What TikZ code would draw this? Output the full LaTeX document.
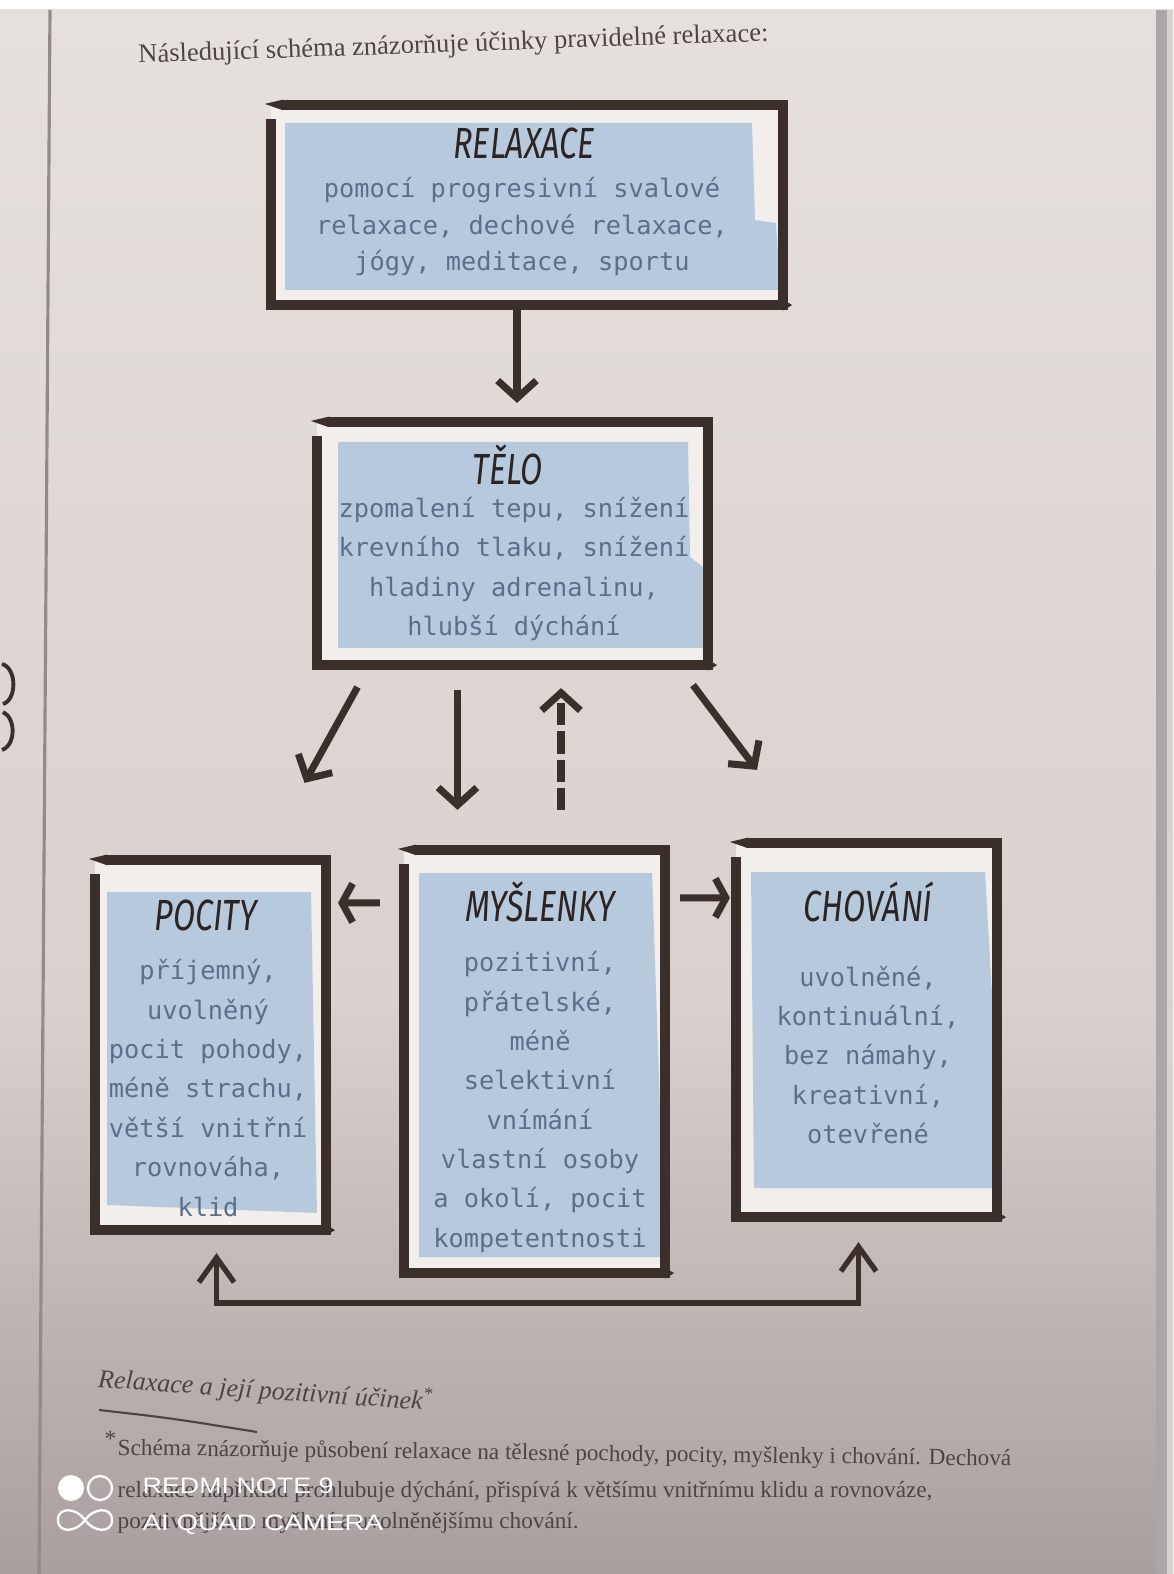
\documentclass[tikz,border=0pt]{standalone}
\usepackage{fontspec}
\setmainfont{Liberation Serif}
\newfontfamily\monofont{DejaVu Sans Mono}
\newfontfamily\handfont{Fira Sans}
\newfontfamily\markfont{Liberation Sans}
\usetikzlibrary{arrows.meta,calc,backgrounds}
\definecolor{brush}{HTML}{3A2F2B}
\definecolor{panelblue}{HTML}{B7CADD}
\definecolor{bodyink}{HTML}{5A6F8A}
\definecolor{titleink}{HTML}{2B2424}
\definecolor{printink}{HTML}{4D4545}
\definecolor{paperhi}{HTML}{E6E0DD}
\definecolor{papermid}{HTML}{D9D1CE}
\definecolor{paperlo}{HTML}{A99F9E}
\definecolor{inside}{HTML}{F1EEEC}
\definecolor{gutter}{HTML}{938B89}
\definecolor{edgegray}{HTML}{A9A7A8}
\tikzset{
  boxframe/.style={inner sep=0pt, outer sep=0pt},
  boxedge/.style={draw=brush, line width=3pt, line join=miter},
  boxtitle/.style={font=\handfont\itshape\fontsize{12.4}{14}\selectfont, text=titleink, inner sep=0pt},
  boxbody/.style={font=\monofont\fontsize{7.2}{11.2}\selectfont, text=bodyink, align=center, inner sep=0pt},
  brusharrow/.style={draw=brush, line width=2pt, -{Straight Barb[length=5pt,width=11pt]}},
  shorthead/.style={-{Straight Barb[length=3pt,width=11pt]}},
  brushline/.style={draw=brush, line width=1.5pt},
  pagetext/.style={font=\fontsize{7.55}{9}\selectfont, text=printink, inner sep=0pt},
  notetext/.style={font=\fontsize{6.6}{8}\selectfont, text=printink, inner sep=0pt, anchor=base west},
  marktext/.style={font=\markfont\fontsize{6.36}{8}\selectfont, text=white, inner sep=0pt},
}
\newcommand{\ttl}[1]{\scalebox{0.74}[1]{#1}}
% brush frame round a named node: open top-left corner, tapered start
\newcommand{\brushbox}[1]{%
  \draw[boxedge] ([shift={(12,0)}]#1.north west) -- (#1.north east) -- (#1.south east)
    -- (#1.south west) -- ([shift={(0,14)}]#1.north west);
  \fill[brush] ([shift={(12,-5.3)}]#1.north west) -- ([shift={(-6,-1)}]#1.north west)
    -- ([shift={(12,5.3)}]#1.north west) -- cycle;
  \fill[brush] ([shift={(0,-5.3)}]#1.south east) -- ([shift={(9,0)}]#1.south east)
    -- ([shift={(0,5.3)}]#1.south east) -- cycle;}

\begin{document}
\begin{tikzpicture}[x=0.01cm, y=-0.01cm]
  \useasboundingbox (0,0) rectangle (1173,1574);

  % frames of the five boxes
  \node[boxframe, minimum width=5.12cm, minimum height=2cm] (relF) at (527,205) {};
  \node[boxframe, minimum width=3.91cm, minimum height=2.43cm] (teloF) at (512.5,543.5) {};
  \node[boxframe, minimum width=2.31cm, minimum height=3.7cm] (pocF) at (210.5,1045) {};
  \node[boxframe, minimum width=2.61cm, minimum height=4.23cm] (mysF) at (534.5,1061.5) {};
  \node[boxframe, minimum width=2.61cm, minimum height=3.74cm] (chovF) at (866.5,1030) {};

  % page, paper inside the frames, blue panels
  \begin{scope}[on background layer]
    \fill[white] (0,0) rectangle (1173,10);
    \shade[top color=paperhi, bottom color=papermid] (0,10) rectangle (1173,1000);
    \shade[top color=papermid, bottom color=paperlo] (0,1000) rectangle (1173,1574);
    \draw[gutter, line width=0.9pt] (50,10) -- (39,1574);
    \fill[edgegray] (1156,10) rectangle (1167,1574);
    \fill[papermid] (1167,10) rectangle (1173,1574);
    \draw[brush, line width=1.1pt] (2,664) .. controls (17,668) and (17,700) .. (3,704);
    \draw[brush, line width=1.1pt] (3,712) .. controls (16,718) and (16,745) .. (2,750);
    \foreach \b in {relF,teloF,pocF,mysF,chovF}
      \fill[inside] (\b.north west) rectangle (\b.south east);
    \fill[panelblue] (285,123) -- (752,123) -- (755,220) -- (776,223) -- (780,290) -- (285,290) -- cycle;
    \fill[panelblue] (338,442) -- (688,442) -- (690,557) -- (703,567) -- (712,648) -- (338,648) -- cycle;
    \fill[panelblue] (107,892) -- (311,892) -- (317,1213) -- (107,1205) -- cycle;
    \fill[panelblue] (419,873) -- (652,873) -- (665,1257) -- (419,1257) -- cycle;
    \fill[panelblue] (751,872) -- (985,872) -- (1003,1188) -- (754,1188) -- cycle;
  \end{scope}
  \foreach \b in {relF,teloF,pocF,mysF,chovF}
    \brushbox{\b};

  % titles and texts
  \node[boxtitle] (relT) at (524,143) {\ttl{RELAXACE}};
  \node[boxbody, font=\monofont\fontsize{7.2}{10.4}\selectfont] (relB) at (522,227)
    {pomocí progresivní svalové\\relaxace, dechové relaxace,\\jógy, meditace, sportu};
  \node[boxtitle] (teloT) at (508,465) {\ttl{TĚLO}};
  \node[boxbody] (teloB) at (514,569)
    {zpomalení tepu, snížení\\krevního tlaku, snížení\\hladiny adrenalinu,\\hlubší dýchání};
  \node[boxtitle] (pocT) at (206,915) {\ttl{POCITY}};
  \node[boxbody] (pocB) at (208,1088)
    {příjemný,\\uvolněný\\pocit pohody,\\méně strachu,\\větší vnitřní\\rovnováha,\\klid};
  \node[boxtitle] (mysT) at (540,902) {\ttl{MYŠLENKY}};
  \node[boxbody] (mysB) at (540,1102)
    {pozitivní,\\přátelské,\\méně\\selektivní\\vnímání\\vlastní osoby\\a okolí, pocit\\kompetentnosti};
  \node[boxtitle] (chovT) at (868,902) {\ttl{CHOVÁNÍ}};
  \node[boxbody] (chovB) at (868,1055)
    {uvolněné,\\kontinuální,\\bez námahy,\\kreativní,\\otevřené};

  % arrows
  \draw[brusharrow] ($(relF.south)+(-10,5)$) -- ($(teloF.north)+(4.5,-19)$);
  \draw[brusharrow] ($(teloF.south)+(-155,22)$) -- ($(pocF.north)+(94,-77)$);
  \draw[brusharrow] ($(teloF.south)+(-55,25)$) -- ($(mysF.north)+(-77,-40)$);
  \draw[brusharrow, dash pattern=on 6.3pt off 1.7pt] ($(mysF.north)+(26.5,-40)$) -- ($(teloF.south)+(48.5,23)$);
  \draw[brusharrow] ($(teloF.south)+(180.5,20)$) -- ($(chovF.north)+(-109.5,-73)$);
  \draw[brusharrow, shorthead] ($(mysF.north west)+(-24,53)$) -- ($(pocF.north east)+(12,43)$);
  \draw[brusharrow, shorthead] ($(mysF.north east)+(15,48)$) -- ($(chovF.north west)+(-6,55)$);
  \draw[brushline, {Straight Barb[length=7pt,width=10pt]}-{Straight Barb[length=7pt,width=10pt]}]
    ($(pocF.south)+(6,23)$) -- ++(0,50) -| ($(chovF.south)+(-8,25)$);

  % page text
  \node[pagetext, anchor=base west, rotate=2] (intro) at (138,63)
    {Následující schéma znázorňuje účinky pravidelné relaxace:};
  \node[pagetext, font=\itshape\fontsize{7.4}{9}\selectfont, anchor=base west, rotate=-4] (capt) at (97,1387)
    {Relaxace a její pozitivní účinek\textsuperscript{*}};
  \draw[printink, line width=0.6pt] (99,1410) .. controls (170,1418) .. (257,1432);
  \node[notetext] (fnmark) at (104,1446) {*};
  \node[notetext, rotate=-0.7] (fn1) at (117,1455)
    {Schéma znázorňuje působení relaxace na tělesné pochody, pocity, myšlenky i chování. Dechová};
  \node[notetext] (fn2) at (117,1497)
    {relaxace například prohlubuje dýchání, přispívá k většímu vnitřnímu klidu a rovnováze,};
  \node[notetext] (fn3) at (117,1528)
    {pozitivnějšímu myšlení a uvolněnějšímu chování.};

  % camera mark
  \fill[white] (71,1488) circle (13);
  \draw[white, line width=0.65pt] (100,1488) circle (12);
  \draw[white, line width=0.65pt] (85,1520) .. controls (93,1508) and (112,1506) .. (112,1520)
    .. controls (112,1534) and (93,1532) .. (85,1520)
    .. controls (77,1508) and (58,1506) .. (58,1520)
    .. controls (58,1534) and (77,1532) .. (85,1520);
  \node[marktext, anchor=base west] (wm1) at (142,1493) {\scalebox{1.2}[1]{REDMI NOTE 9}};
  \node[marktext, anchor=base west] (wm2) at (142,1530) {\scalebox{1.24}[1]{AI QUAD CAMERA}};
\end{tikzpicture}
\end{document}
